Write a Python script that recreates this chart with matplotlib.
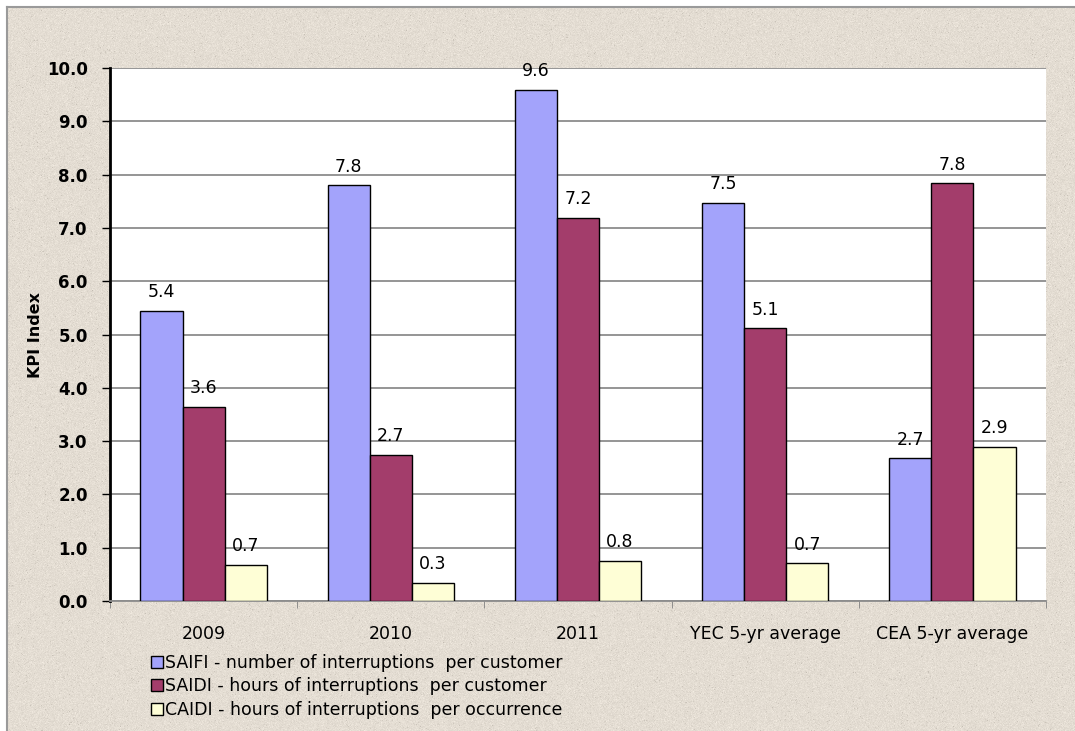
import numpy as np
import matplotlib.pyplot as plt

categories = ["2009", "2010", "2011", "YEC 5-yr average", "CEA 5-yr average"]
saifi = [5.44, 7.80, 9.59, 7.47, 2.68]
saidi = [3.64, 2.74, 7.19, 5.12, 7.84]
caidi = [0.68, 0.34, 0.75, 0.71, 2.89]
series_names = [
    "SAIFI - number of interruptions  per customer",
    "SAIDI - hours of interruptions  per customer",
    "CAIDI - hours of interruptions  per occurrence",
]
colors = ["#a3a3fb", "#a33d6b", "#fefed6"]

plt.rcParams["font.family"] = ["DejaVu Sans"]

fig = plt.figure(figsize=(10.75, 7.31), dpi=100)
fig.patch.set_facecolor("white")

# beige stone backdrop with a light speckle, in its own axes behind the chart
rng = np.random.default_rng(3)
h, w = 724, 1068
base = np.array([0.894, 0.867, 0.827])
noise = rng.normal(0, 0.018, (h, w, 1))
speck = (rng.random((h, w, 1)) < 0.01) * -0.08
tex = np.clip(base + noise + speck, 0, 1)
bg = fig.add_axes([7 / 1075, 0, 1068 / 1075, 724 / 731], zorder=-1)
bg.imshow(tex, aspect="auto", interpolation="nearest")
bg.set_xticks([])
bg.set_yticks([])
for side, s in bg.spines.items():
    s.set_color("#9a9a9a")
    s.set_linewidth(1.5)
    s.set_visible(side in ("left", "top"))

ax = fig.add_axes([110 / 1075, 130 / 731, 936 / 1075, 533 / 731], zorder=1)
ax.set_facecolor("white")

x = np.arange(len(categories))
bw = 0.225
for i, (vals, col, name) in enumerate(zip([saifi, saidi, caidi], colors, series_names)):
    bars = ax.bar(x + (i - 1) * bw, vals, bw, color=col, edgecolor="black",
                  linewidth=1.0, label=name, zorder=3)
    for b, v in zip(bars, vals):
        ax.text(b.get_x() + b.get_width() / 2, v + 0.18, f"{v:.1f}",
                ha="center", va="bottom", fontsize=12.5, zorder=4)

ax.set_xlim(-0.5, len(categories) - 0.5)
ax.set_ylim(0, 10)
ax.set_yticks(np.arange(0, 10.1, 1.0))
ax.set_yticklabels([f"{t:.1f}" for t in np.arange(0, 10.1, 1.0)],
                   fontsize=12, fontweight="bold")
ax.set_xticks(x)
ax.set_xticklabels(categories, fontsize=12.5)
ax.set_xticks(np.arange(-0.5, len(categories)), minor=True)
ax.tick_params(axis="x", which="major", length=0, pad=17)
ax.tick_params(axis="x", which="minor", length=5, color="#808080")
ax.tick_params(axis="y", length=6, width=1, pad=10)
ax.yaxis.grid(True, color="#8c8c8c", linewidth=1.3, zorder=0)
ax.set_axisbelow(True)

for s in ["top", "right"]:
    ax.spines[s].set_visible(False)
ax.spines["left"].set_linewidth(2)
ax.spines["left"].set_color("black")
ax.spines["bottom"].set_color("#8c8c8c")
ax.spines["bottom"].set_linewidth(1.3)

ax.set_ylabel("KPI Index", fontsize=11.5, fontweight="bold", labelpad=3)

ax.legend(loc="upper left", bbox_to_anchor=(0.036, -0.086), frameon=False,
          fontsize=12.5, handlelength=0.7, handleheight=0.7,
          handletextpad=0.1, labelspacing=0.32, borderaxespad=0)

fig.savefig("out.png", dpi=100)
